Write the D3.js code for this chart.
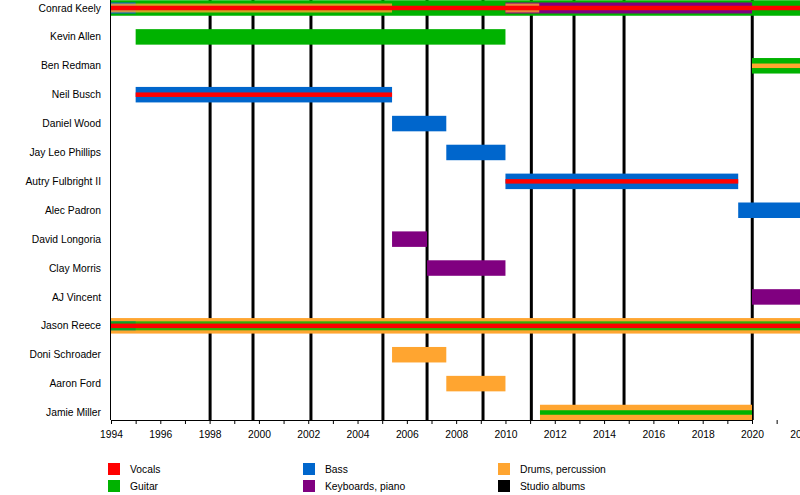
<!DOCTYPE html>
<html>
<head>
<meta charset="utf-8">
<script src="https://cdn.jsdelivr.net/npm/d3@7"></script>
<style>
  body { margin: 0; background: #fff; }
  text { font-family: "Liberation Sans", Arial, sans-serif; font-size: 10.3px; fill: #000; }
</style>
</head>
<body>
<svg id="timeline"></svg>
<script>
var members = ['Conrad Keely', 'Kevin Allen', 'Ben Redman', 'Neil Busch', 'Daniel Wood',
    'Jay Leo Phillips', 'Autry Fulbright II', 'Alec Padron', 'David Longoria', 'Clay Morris',
    'AJ Vincent', 'Jason Reece', 'Doni Schroader', 'Aaron Ford', 'Jamie Miller'];

var roles = ['Vocals', 'Guitar', 'Bass', 'Keyboards, piano', 'Drums, percussion'];
var roleColors = ['#ff0000', '#00b200', '#0066cc', '#800080', '#ffa530'];

// member, role, from, to, layer (0 = main role ... 3 = thin stripe)
var present = 2023.5;
var periods = [
    ['Conrad Keely', 'Guitar', 1994, present, 0],
    ['Conrad Keely', 'Bass', 1994, 1995, 1],
    ['Conrad Keely', 'Keyboards, piano', 2010, 2020, 1],
    ['Conrad Keely', 'Drums, percussion', 1994, 2005.4, 2],
    ['Conrad Keely', 'Drums, percussion', 2010, 2011.37, 2],
    ['Conrad Keely', 'Vocals', 1994, present, 3],
    ['Kevin Allen', 'Guitar', 1995, 2010, 0],
    ['Ben Redman', 'Guitar', 2020, present, 0],
    ['Ben Redman', 'Drums, percussion', 2020, present, 3],
    ['Neil Busch', 'Bass', 1995, 2005.4, 0],
    ['Neil Busch', 'Vocals', 1995, 2005.4, 3],
    ['Daniel Wood', 'Bass', 2005.4, 2007.6, 0],
    ['Jay Leo Phillips', 'Bass', 2007.6, 2010, 0],
    ['Autry Fulbright II', 'Bass', 2010, 2019.44, 0],
    ['Autry Fulbright II', 'Vocals', 2010, 2019.44, 3],
    ['Alec Padron', 'Bass', 2019.44, present, 0],
    ['David Longoria', 'Keyboards, piano', 2005.4, 2006.82, 0],
    ['Clay Morris', 'Keyboards, piano', 2006.82, 2010, 0],
    ['AJ Vincent', 'Keyboards, piano', 2020, present, 0],
    ['Jason Reece', 'Drums, percussion', 1994, present, 0],
    ['Jason Reece', 'Bass', 1994, 1995, 2],
    ['Jason Reece', 'Guitar', 1994, present, 2],
    ['Jason Reece', 'Vocals', 1994, present, 3],
    ['Doni Schroader', 'Drums, percussion', 2005.4, 2007.6, 0],
    ['Aaron Ford', 'Drums, percussion', 2007.6, 2010, 0],
    ['Jamie Miller', 'Drums, percussion', 2011.4, 2020, 0],
    ['Jamie Miller', 'Guitar', 2011.4, 2020, 3]
];

// studio album release dates
var albums = [1998.02, 1999.76, 2002.11, 2005.03, 2006.82, 2009.09, 2011.05, 2012.78, 2014.81, 2020.01];

var yearTicks = d3.range(1994, 2024);
var tickLabels = ['1994', '1996', '1998', '2000', '2002', '2004', '2006', '2008', '2010',
    '2012', '2014', '2016', '2018', '2020', '2022'];

var legendItems = ['Vocals', 'Guitar', 'Bass', 'Keyboards, piano', 'Drums, percussion', 'Studio albums'];
var legendColors = ['#ff0000', '#00b200', '#0066cc', '#800080', '#ffa530', '#000000'];

function drawTimeline(){
    var width = 800, height = 495;
    var left = 111, axisY = 420;
    var layerWidth = [15.5, 11, 9, 4.5];

    var svg = d3.select('#timeline')
        .attr('width', width)
        .attr('height', height);

    var x = d3.scaleLinear()
        .domain([1994, 2020])
        .range([left, 752]);

    var y = d3.scalePoint()
        .domain(members)
        .range([8, 412.5]);

    var color = d3.scaleOrdinal()
        .domain(roles)
        .range(roleColors);

    // album lines sit behind the bars
    svg.selectAll('.album')
        .data(albums)
        .enter().append('line')
        .attr('class', 'album')
        .attr('x1', function(d){ return x(d); })
        .attr('x2', function(d){ return x(d); })
        .attr('y1', 0)
        .attr('y2', axisY)
        .attr('stroke', '#000')
        .attr('stroke-width', 3);

    // wide bars first, thinner stripes on top
    var ordered = periods.slice().sort(function(a, b){ return a[4] - b[4]; });
    svg.selectAll('.bar')
        .data(ordered)
        .enter().append('rect')
        .attr('class', 'bar')
        .attr('x', function(d){ return x(d[2]); })
        .attr('width', function(d){ return x(d[3]) - x(d[2]); })
        .attr('y', function(d){ return y(d[0]) - layerWidth[d[4]] / 2; })
        .attr('height', function(d){ return layerWidth[d[4]]; })
        .attr('fill', function(d){ return color(d[1]); })
        // overlapping stripes of the same layer blend a little, like the original
        .attr('fill-opacity', function(d){ return d[4] == 2 ? 0.8 : 1; });

    svg.selectAll('.name')
        .data(members)
        .enter().append('text')
        .attr('class', 'name')
        .attr('x', 101)
        .attr('y', function(d){ return y(d); })
        .attr('dy', '0.35em')
        .attr('text-anchor', 'end')
        .text(function(d){ return d; });

    var xAxis = d3.axisBottom(x)
        .tickValues(yearTicks)
        .tickSize(4)
        .tickSizeOuter(0)
        .tickFormat(function(d){
            return tickLabels.indexOf(String(d)) >= 0 ? String(d) : '';
        });

    var gx = svg.append('g')
        .attr('transform', 'translate(0,' + axisY + ')')
        .call(xAxis);
    gx.select('.domain').attr('stroke', '#000');
    gx.selectAll('.tick line').attr('stroke', '#000');
    gx.selectAll('.tick text')
        .attr('y', 11)
        .style('font-family', '"Liberation Sans", Arial, sans-serif')
        .style('font-size', '10.3px')
        .attr('fill', '#000');

    svg.append('line')
        .attr('x1', left - 0.5).attr('x2', left - 0.5)
        .attr('y1', 0).attr('y2', axisY)
        .attr('stroke', '#000');

    // legend: three columns, two rows
    var colX = [108, 303, 498];
    var legend = svg.selectAll('.legend')
        .data(legendItems)
        .enter().append('g')
        .attr('class', 'legend')
        .attr('transform', function(d, i){
            return 'translate(' + colX[Math.floor(i / 2)] + ',' + (463 + (i % 2) * 17) + ')';
        });
    legend.append('rect')
        .attr('width', 12)
        .attr('height', 12)
        .attr('fill', function(d, i){ return legendColors[i]; });
    legend.append('text')
        .attr('x', 22)
        .attr('y', 6.5)
        .attr('dy', '0.35em')
        .text(function(d){ return d; });
}

drawTimeline();
</script>
</body>
</html>
